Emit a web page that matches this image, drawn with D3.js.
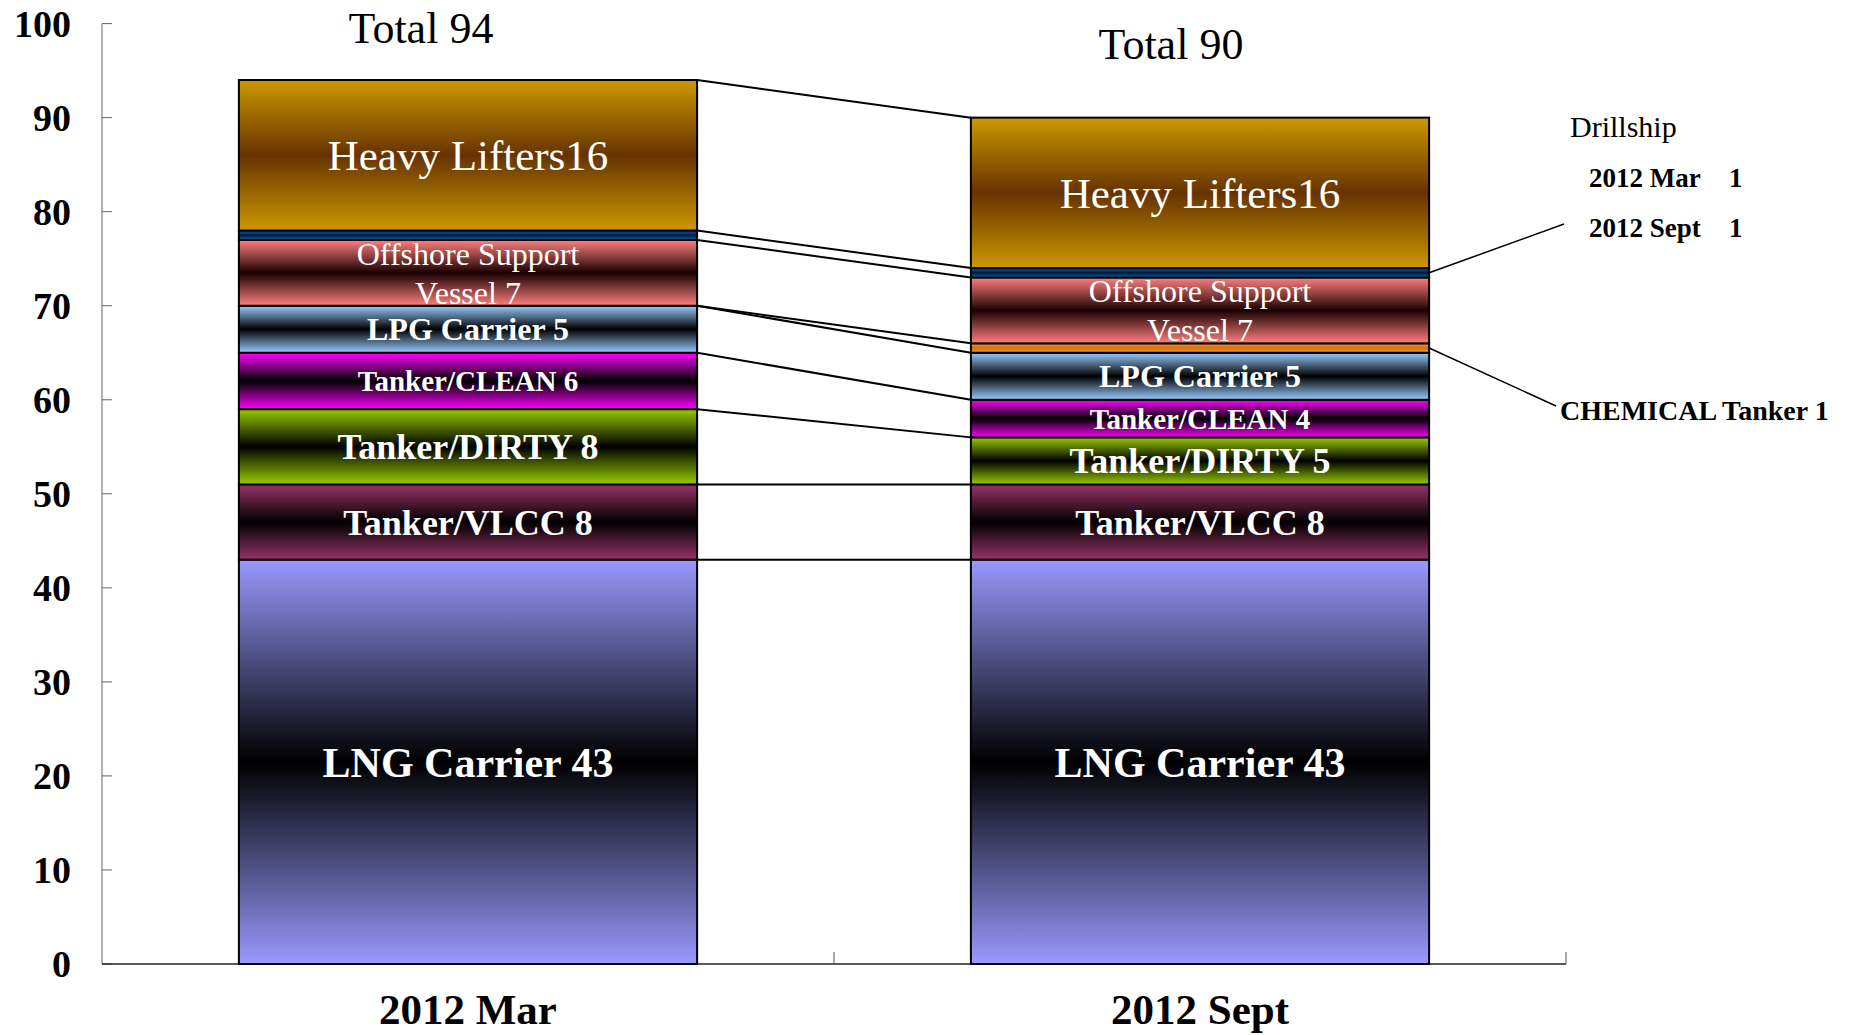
<!DOCTYPE html>
<html>
<head>
<meta charset="utf-8">
<script src="https://cdn.jsdelivr.net/npm/d3@7"></script>
<style>
	body { margin: 0; background: #fff; }
	text { font-family: "Liberation Serif", "Times New Roman", serif; }
</style>
</head>
<body>
<div id="chart"></div>
<script>
// data
var categories = ['2012 Mar', '2012 Sept'];
var seriesNames = ['LNG Carrier', 'Tanker/VLCC', 'Tanker/DIRTY', 'Tanker/CLEAN', 'LPG Carrier',
	'CHEMICAL Tanker', 'Offshore Support Vessel', 'Drillship', 'Heavy Lifters'];
var marValues = [43, 8, 8, 6, 5, 0, 7, 1, 16];
var septValues = [43, 8, 5, 4, 5, 1, 7, 1, 16];
var yTicks = [0, 10, 20, 30, 40, 50, 60, 70, 80, 90, 100];

var width = 1850,
	height = 1035;

// edge colour / middle colour of each band's gradient
var colors = {
	'LNG Carrier': ['#9999ff', '#000000'],
	'Tanker/VLCC': ['#993366', '#000000'],
	'Tanker/DIRTY': ['#99cc00', '#000000'],
	'Tanker/CLEAN': ['#ff00ff', '#000000'],
	'LPG Carrier': ['#99ccff', '#000000'],
	'CHEMICAL Tanker': ['#ff9933', '#d07010'],
	'Offshore Support Vessel': ['#ff8080', '#1a0000'],
	'Drillship': ['#0a66c2', '#001830'],
	'Heavy Lifters': ['#cc9900', '#663300']
};

// label text and style inside the bars
var labelStyle = {
	'LNG Carrier': {size: 42, weight: 'bold', fmt: function(v) { return ['LNG Carrier ' + v]; }},
	'Tanker/VLCC': {size: 36, weight: 'bold', fmt: function(v) { return ['Tanker/VLCC ' + v]; }},
	'Tanker/DIRTY': {size: 36, weight: 'bold', fmt: function(v) { return ['Tanker/DIRTY ' + v]; }},
	'Tanker/CLEAN': {size: 29, weight: 'bold', fmt: function(v) { return ['Tanker/CLEAN ' + v]; }},
	'LPG Carrier': {size: 32, weight: 'bold', fmt: function(v) { return ['LPG Carrier ' + v]; }},
	'Offshore Support Vessel': {size: 32, weight: 'normal', fmt: function(v) { return ['Offshore Support', 'Vessel ' + v]; }},
	'Heavy Lifters': {size: 43, weight: 'normal', fmt: function(v) { return ['Heavy Lifters' + v]; }}
};

var rows = categories.map(function(c, i) {
	var vals = i === 0 ? marValues : septValues;
	var r = {cat: c};
	seriesNames.forEach(function(s, j) { r[s] = vals[j]; });
	return r;
});

var stack = d3.stack().keys(seriesNames)(rows);

var x = d3.scaleBand()
	.domain(categories)
	.range([102, 1566])
	.paddingInner(0.374)
	.paddingOuter(0.187);

var y = d3.scaleLinear()
	.domain([0, 100])
	.range([964, 23.6]);

var svg = d3.select('#chart').append('svg')
	.attr('width', width)
	.attr('height', height);

var defs = svg.append('defs');
seriesNames.forEach(function(s, i) {
	var g = defs.append('linearGradient')
		.attr('id', 'grad' + i)
		.attr('x1', 0).attr('y1', 0)
		.attr('x2', 0).attr('y2', 1);
	g.append('stop').attr('offset', '0%').attr('stop-color', colors[s][0]);
	g.append('stop').attr('offset', '50%').attr('stop-color', colors[s][1]);
	g.append('stop').attr('offset', '100%').attr('stop-color', colors[s][0]);
});

// y axis
var yAxis = svg.append('g');
yAxis.append('line')
	.attr('x1', 102).attr('x2', 102)
	.attr('y1', y(0)).attr('y2', y(100))
	.attr('stroke', '#666').attr('stroke-width', 1);
yAxis.selectAll('.ytick').data(yTicks).enter().append('line')
	.attr('x1', 102).attr('x2', 112)
	.attr('y1', function(d) { return y(d); })
	.attr('y2', function(d) { return y(d); })
	.attr('stroke', '#666');
yAxis.selectAll('.ylab').data(yTicks).enter().append('text')
	.attr('x', 71)
	.attr('y', function(d) { return y(d); })
	.attr('dy', '0.35em')
	.attr('text-anchor', 'end')
	.style('font-size', '38px')
	.style('font-weight', 'bold')
	.text(function(d) { return d; });

// x axis
var xAxis = svg.append('g');
xAxis.append('line')
	.attr('x1', 102).attr('x2', 1566)
	.attr('y1', y(0)).attr('y2', y(0))
	.attr('stroke', '#222').attr('stroke-width', 1.5);
var step = x.step();
xAxis.selectAll('.xtick').data(categories).enter().append('line')
	.attr('x1', function(d) { return x(d) - step * 0.187 + step; })
	.attr('x2', function(d) { return x(d) - step * 0.187 + step; })
	.attr('y1', y(0)).attr('y2', y(0) - 12)
	.attr('stroke', '#555');
xAxis.selectAll('.xlab').data(categories).enter().append('text')
	.attr('x', function(d) { return x(d) + x.bandwidth() / 2; })
	.attr('y', 1024)
	.attr('text-anchor', 'middle')
	.style('font-size', '43px')
	.style('font-weight', 'bold')
	.text(function(d) { return d; });

// series lines between the bars
var bw = x.bandwidth();
svg.append('g').selectAll('line').data(stack).enter().append('line')
	.attr('x1', x(categories[0]) + bw)
	.attr('x2', x(categories[1]))
	.attr('y1', function(d) { return y(d[0][1]); })
	.attr('y2', function(d) { return y(d[1][1]); })
	.attr('stroke', '#000')
	.attr('stroke-width', 2);

// stacked segments
var layers = svg.append('g').selectAll('g').data(stack).enter().append('g')
	.attr('fill', function(d, i) { return 'url(#grad' + i + ')'; });

layers.selectAll('rect')
	.data(function(d) { return d.filter(function(p) { return p[1] > p[0]; }); })
	.enter().append('rect')
	.attr('x', function(d) { return x(d.data.cat); })
	.attr('y', function(d) { return y(d[1]); })
	.attr('width', bw)
	.attr('height', function(d) { return y(d[0]) - y(d[1]); })
	.attr('stroke', '#000')
	.attr('stroke-width', 2);

// labels in segments
stack.forEach(function(layer) {
	var st = labelStyle[layer.key];
	if (!st) return;
	layer.forEach(function(p) {
		var v = p[1] - p[0];
		if (!v) return;
		var lines = st.fmt(v);
		var cy = y((p[0] + p[1]) / 2);
		var lh = 39;
		var t = svg.append('text')
			.attr('text-anchor', 'middle')
			.attr('fill', '#fff')
			.style('font-size', st.size + 'px')
			.style('font-weight', st.weight);
		lines.forEach(function(l, k) {
			t.append('tspan')
				.attr('x', x(p.data.cat) + bw / 2)
				.attr('y', cy + (k - (lines.length - 1) / 2) * lh)
				.attr('dy', '0.35em')
				.text(l);
		});
	});
});

// totals above the bars
var totals = rows.map(function(r) { return d3.sum(seriesNames, function(s) { return r[s]; }); });
var totalPos = [[-47, 43], [-29, 59]];
svg.selectAll('.total').data(categories).enter().append('text')
	.attr('x', function(d, i) { return x(d) + bw / 2 + totalPos[i][0]; })
	.attr('y', function(d, i) { return totalPos[i][1]; })
	.attr('text-anchor', 'middle')
	.style('font-size', '44px')
	.text(function(d, i) { return 'Total ' + totals[i]; });

// callouts at the right
var ri = x(categories[1]) + bw;
var dIdx = seriesNames.indexOf('Drillship'),
	cIdx = seriesNames.indexOf('CHEMICAL Tanker');

svg.append('line')
	.attr('x1', ri).attr('y1', y(stack[dIdx][1][0] + 0.5))
	.attr('x2', 1564).attr('y2', 224)
	.attr('stroke', '#000').attr('stroke-width', 1.5);
svg.append('line')
	.attr('x1', ri).attr('y1', y(stack[cIdx][1][0] + 0.5))
	.attr('x2', 1556).attr('y2', 406)
	.attr('stroke', '#000').attr('stroke-width', 1.5);

svg.append('text')
	.attr('x', 1570).attr('y', 137)
	.style('font-size', '30px')
	.text('Drillship');

var drillVals = [marValues[dIdx], septValues[dIdx]];
var note = svg.selectAll('.dnote').data(categories).enter().append('g')
	.attr('transform', function(d, i) { return 'translate(0,' + (187 + i * 50) + ')'; });
note.append('text')
	.attr('x', 1589)
	.style('font-size', '27px')
	.style('font-weight', 'bold')
	.text(function(d) { return d; });
note.append('text')
	.attr('x', 1729)
	.style('font-size', '27px')
	.style('font-weight', 'bold')
	.text(function(d, i) { return drillVals[i]; });

svg.append('text')
	.attr('x', 1560).attr('y', 420)
	.style('font-size', '28px')
	.style('font-weight', 'bold')
	.text('CHEMICAL Tanker ' + septValues[cIdx]);
</script>
</body>
</html>
